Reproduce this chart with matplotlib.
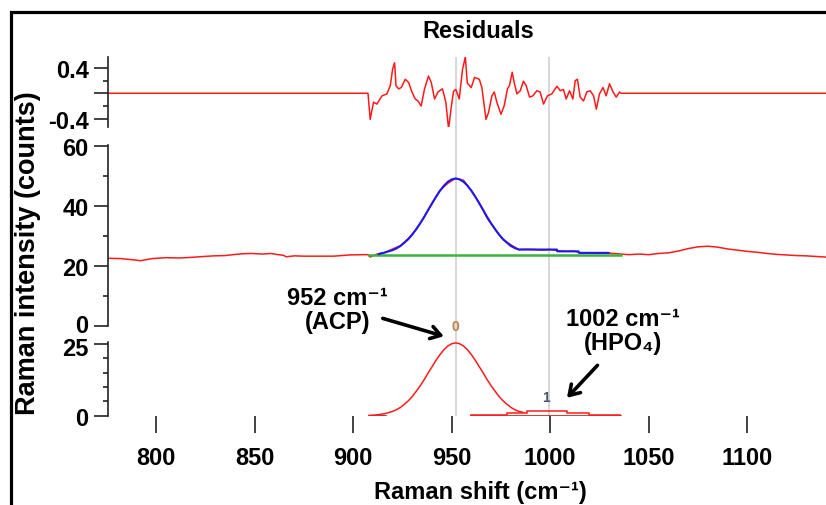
import matplotlib
matplotlib.use("Agg")
import matplotlib.pyplot as plt
from matplotlib.patches import Rectangle
from matplotlib.transforms import ScaledTranslation

plt.rcParams['font.family'] = ['Liberation Sans', 'DejaVu Sans']
plt.rcParams['font.weight'] = 'bold'

# ---------------- data ----------------
x_limits = (775.5, 1140)
peak_markers = [952, 999.5]

res_x = [775.5, 907.5, 908.6, 910.3, 912.0, 914.6, 917.1, 918.8, 920.0, 921.0, 921.7, 923.0,
         924.4, 926.4, 928.1, 929.8, 931.5, 932.8, 934.5, 936.2, 938.2, 939.6, 941.3, 943.0,
         945.3, 947.0, 948.4, 949.7, 950.9, 952.1, 953.8, 955.5, 956.9, 957.9, 959.9, 961.6,
         964.0, 965.3, 967.4, 968.7, 970.4, 971.6, 972.9, 975.0, 976.6, 978.3, 979.3, 980.7,
         981.7, 983.1, 984.8, 986.4, 987.8, 989.5, 991.2, 993.2, 994.9, 996.6, 998.6, 1000.8,
         1003.4, 1005.1, 1006.7, 1008.1, 1009.8, 1011.5, 1012.7, 1013.8, 1015.2, 1016.9, 1018.6,
         1020.3, 1022.0, 1023.4, 1025.0, 1026.8, 1028.4, 1030.1, 1031.9, 1033.5, 1035.2, 1036.0,
         1140]
res_y = [0, 0, -0.41, -0.14, -0.17, -0.04, -0.01, 0.12, 0.38, 0.48, 0.12, 0.07,
         0.09, 0.22, 0.17, 0.02, -0.09, -0.12, -0.20, 0.07, 0.27, 0.17, -0.09, 0.02,
         0.07, -0.14, -0.56, -0.23, 0.03, 0.06, -0.09, 0.38, 0.57, 0.16, 0.09, 0.25,
         0.22, 0.09, -0.41, -0.30, -0.04, 0.02, -0.14, -0.33, -0.20, 0.07, 0.12, 0.33,
         0.17, -0.01, 0.04, 0.19, 0.12, -0.06, -0.04, 0.04, 0.02, -0.17, -0.04, -0.01,
         0.11, 0.04, 0.06, -0.09, 0.04, -0.09, 0.20, 0.22, -0.06, -0.12, 0.02,
         0.04, -0.04, -0.25, -0.01, 0.09, -0.04, 0.15, 0.02, -0.06, 0.02, 0,
         0]

spec_x = [775.5, 782, 788, 792, 798, 805, 812, 818, 822, 829, 835, 839, 844, 848, 854, 858,
          862, 864.5, 866, 870, 875, 882, 890, 898, 905, 907.5, 908.6,
          912, 916, 920, 924, 928, 932, 936, 940, 944, 948, 952, 956, 960, 964, 968, 972,
          976, 980, 984, 988, 992, 996, 1000, 1004, 1008, 1012, 1016, 1020, 1024, 1028,
          1032, 1036, 1040, 1045, 1050, 1055, 1060, 1065, 1070, 1075, 1080, 1085, 1090,
          1095, 1100, 1105, 1110, 1115, 1120, 1125, 1130, 1135, 1140]
spec_y = [22.6, 22.5, 22.1, 21.8, 22.5, 22.8, 22.7, 22.9, 23.1, 23.4, 23.5, 23.8, 24.1, 24.2,
          24.0, 24.2, 23.8, 23.6, 23.1, 23.4, 23.3, 23.3, 23.3, 23.7, 23.8, 23.8, 23.0,
          24.0, 24.5, 25.7, 26.8, 29.2, 32.2, 36.4, 40.9, 45.1, 47.5, 49.2, 48.5, 45.1,
          41.0, 35.9, 32.2, 28.8, 27.1, 25.5, 25.6, 25.5, 25.3, 25.5, 25.1, 24.9, 25.0,
          24.3, 24.4, 24.2, 24.4, 24.2, 24.0, 23.8, 24.0, 23.8, 24.2, 24.4, 25.0, 25.8,
          26.4, 26.6, 26.3, 25.7, 25.3, 24.9, 24.6, 24.2, 23.9, 23.7, 23.5, 23.4, 23.2,
          23.0]

fit_x = [913, 916, 918, 920, 922, 924, 926, 928, 930, 932, 934, 936, 938, 940, 942, 944,
         946, 948, 950, 952, 954, 956, 958, 960, 962, 964, 966, 968, 970, 972, 974, 976,
         978, 980, 982, 984, 1003.4, 1003.6, 1014.4, 1014.6, 1029.6]
fit_y = [24.0, 24.5, 24.9, 25.3, 25.9, 26.7, 27.8, 29.0, 30.5, 32.3, 34.2, 36.3, 38.6,
         40.8, 43.0, 45.0, 46.7, 48.0, 48.8, 49.1, 48.8, 48.0, 46.7, 45.0, 43.0, 40.8,
         38.6, 36.3, 34.2, 32.3, 30.5, 29.0, 27.8, 26.7, 26.0, 25.5, 25.5, 24.9, 24.9,
         24.4, 24.4]

base_x = [908, 1036]
base_y = [23.8, 23.8]

peak0_x = [908, 910, 912, 914, 916, 918, 920, 922, 924, 926, 928, 930, 932, 934, 936, 938,
           940, 942, 944, 946, 948, 950, 952, 954, 956, 958, 960, 962, 964, 966, 968, 970,
           972, 974, 976, 978, 980, 982, 984, 986]
peak0_y = [0.1, 0.2, 0.3, 0.5, 0.7, 1.1, 1.5, 2.1, 2.9, 4.0, 5.2, 6.7, 8.5, 10.4, 12.5,
           14.8, 17.0, 19.2, 21.2, 22.9, 24.2, 25.0, 25.3, 25.0, 24.2, 22.9, 21.2, 19.2,
           17.0, 14.8, 12.5, 10.4, 8.5, 6.7, 5.2, 4.0, 2.9, 2.1, 1.5, 1.2]

peak1_edges = [960, 978, 988, 1008.5, 1019.5, 1035.5]
peak1_heights = [0.2, 1.1, 1.7, 1.1, 0.2]

peak_labels = ['0', '1']
peak_label_x = [952, 998]
peak_label_y = [31.0, 6.5]
peak_label_colors = ['#b98040', '#4a5670']

# ---------------- figure ----------------
W, H = 826, 506
fig = plt.figure(figsize=(W / 100, H / 100), dpi=100)

L = 108 / W
AW = 1 - L

def fy(px):
    return 1 - px / H

ax_bg = fig.add_axes([L, fy(416.7), AW, (416.7 - 58) / H])
ax_res = fig.add_axes([L, fy(128), AW, 70 / H])
ax_mid = fig.add_axes([L, fy(327.3), AW, 181.8 / H])
ax_pk = fig.add_axes([L, fy(416.7), AW, 73.7 / H])

ax_bg.set_zorder(0)
ax_bg.set_xlim(*x_limits)
ax_bg.set_ylim(0, 1)
ax_bg.axis('off')
for xv in peak_markers:
    ax_bg.axvline(xv, color='#d4d4d4', lw=1.3)

for ax in (ax_res, ax_mid, ax_pk):
    ax.set_zorder(1)
    ax.patch.set_visible(False)
    ax.set_xlim(*x_limits)
    for s in ('top', 'right', 'bottom'):
        ax.spines[s].set_visible(False)
    ax.spines['left'].set_linewidth(1.2)
    ax.spines['left'].set_color('#222222')
    ax.tick_params(axis='y', which='major', length=10, width=1.2, pad=4, labelsize=17,
                   color='#222222')
    ax.tick_params(axis='y', which='minor', length=3.6, width=1.2, color='#222222')

ax_res.tick_params(axis='x', bottom=False, labelbottom=False)
ax_mid.tick_params(axis='x', bottom=False, labelbottom=False)

# residuals
ax_res.plot(res_x, res_y, color='#ff1a1a', lw=1.1)
ax_res.set_ylim(-0.53, 0.57)
ax_res.set_yticks([-0.4, 0, 0.4])
ax_res.set_yticklabels(['-0.4', '', '0.4'], fontweight='bold')
ax_res.set_yticks([-0.2, 0.2], minor=True)

# spectrum + fit
ax_mid.plot(spec_x, spec_y, color='#ff1a1a', lw=1.1, zorder=2)
ax_mid.plot(base_x, base_y, color='#3cb33c', lw=1.8, zorder=3)
ax_mid.plot(fit_x, fit_y, color='#1a1aee', lw=1.5, zorder=4)
ax_mid.set_ylim(0, 60.4)
ax_mid.set_yticks([0, 20, 40, 60])
ax_mid.set_yticklabels(['0', '20', '40', '60'], fontweight='bold')
ax_mid.set_yticks([10, 30, 50], minor=True)

# peaks
ax_pk.plot(peak0_x, peak0_y, color='#ff1a1a', lw=1.1, zorder=3)
ax_pk.plot([peak1_edges[0], peak1_edges[-1]], [0.05, 0.05], color='#d00000', lw=1.8, zorder=2)
ax_pk.stairs(peak1_heights, peak1_edges, color='#ff1a1a', lw=1.1, zorder=3)
ax_pk.plot([908, 916], [0.05, 0.05], color='#a00000', lw=1.8, zorder=2)
ax_pk.set_ylim(0, 25.6)
ax_pk.set_yticks([0, 25])
ax_pk.set_yticklabels(['0', '25'], fontweight='bold')
ax_pk.set_yticks([5, 10, 15, 20], minor=True)
ax_pk.spines['bottom'].set_linewidth(1.2)
ax_pk.spines['bottom'].set_color('#222222')
ax_pk.set_xticks([800, 850, 900, 950, 1000, 1050, 1100])
ax_pk.set_xticklabels(['800', '850', '900', '950', '1000', '1050', '1100'], fontweight='bold')
ax_pk.tick_params(axis='x', which='major', length=12, width=1.2, pad=9.5, labelsize=17,
                  color='#222222')

# the "0" of the middle panel and the "25" of the bottom panel nearly touch: nudge apart
lab0 = ax_mid.get_yticklabels()[0]
lab0.set_transform(lab0.get_transform() + ScaledTranslation(0, 2.5 / 72, fig.dpi_scale_trans))
lab25 = ax_pk.get_yticklabels()[1]
lab25.set_transform(lab25.get_transform() + ScaledTranslation(0, -1.5 / 72, fig.dpi_scale_trans))

for lab, lx, ly, lc in zip(peak_labels, peak_label_x, peak_label_y, peak_label_colors):
    ax_pk.text(lx, ly, lab, color=lc, fontsize=10, fontweight='bold', ha='center',
               va='center', clip_on=False)

# annotations
ax_pk.text(892, 36.9, '952 cm\u207b\u00b9\n(ACP)', ha='center', va='center', fontsize=17,
           fontweight='bold', linespacing=1.05, clip_on=False)
ax_pk.annotate('', xy=(946, 27.6), xytext=(915, 33.8), annotation_clip=False,
               arrowprops=dict(arrowstyle='->,head_length=0.7,head_width=0.45', lw=2.6,
                               color='black', shrinkA=0, shrinkB=0))
ax_pk.text(1037, 29.5, '1002 cm\u207b\u00b9\n(HPO\u2084)', ha='center', va='center',
           fontsize=17, fontweight='bold', linespacing=1.05, clip_on=False)
ax_pk.annotate('', xy=(1008.5, 6.2), xytext=(1024, 17.5), annotation_clip=False,
               arrowprops=dict(arrowstyle='->,head_length=0.7,head_width=0.45', lw=2.6,
                               color='black', shrinkA=0, shrinkB=0))

# titles / labels
fig.text(478 / W, fy(32), 'Residuals', ha='center', va='center', fontsize=17,
         fontweight='bold')
fig.text(480 / W, fy(493), 'Raman shift (cm\u207b\u00b9)', ha='center', va='center',
         fontsize=17, fontweight='bold')
fig.text(28 / W, fy(253), 'Raman intensity (counts)', ha='center', va='center',
         rotation=90, fontsize=19.5, fontweight='bold')

# outer frame
fig.add_artist(Rectangle((11 / W, -0.5), 2, 1.5 - 12.5 / H, transform=fig.transFigure,
                         fill=False, lw=2.3, edgecolor='black', clip_on=False))

fig.savefig('out.png', dpi=100)
